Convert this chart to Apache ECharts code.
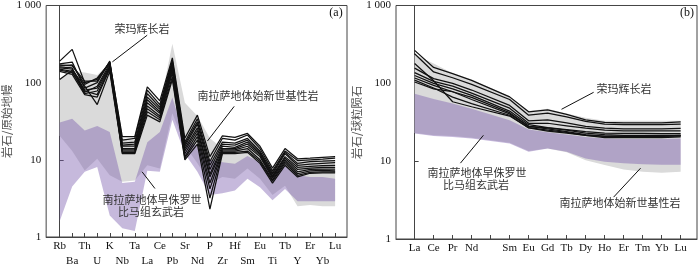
<!DOCTYPE html>
<html><head><meta charset="utf-8">
<script src="https://cdn.jsdelivr.net/npm/echarts@6/dist/echarts.min.js"></script>
<style>html,body{margin:0;padding:0;background:#fff}#c{width:700px;height:267px}</style>
</head><body><div id="c"></div>
<script>
// ---------- categories / tick labels ----------
const spiderElements = ['Rb','Ba','Th','U','K','Nb','Ta','La','Ce','Pb','Sr','Nd','P','Zr','Hf','Sm','Eu','Ti','Tb','Y','Er','Yb','Lu'];
const reeElements = ['La','Ce','Pr','Nd','','Sm','Eu','Gd','Tb','Dy','Ho','Er','Tm','Yb','Lu'];
const yTickLabels = {1:'1', 10:'10', 100:'100', 1000:'1 000'};

// ---------- (a) primitive-mantle normalised: Rongma gabbro ----------
const spiderL1 = [190,270,100,110,185,20,20,88,58,210,19,38,11,20.5,19.5,22,15,7.8,14,10.3,10.5,10.8,11];
const spiderL2 = [175,185,85,100,190,18,19,80,52,195,17,34,9.5,19,18,21,14,7.2,13,9.8,10,10.2,10.5];
const spiderL3 = [165,170,95,115,180,16.5,17,72,48,185,16,31,8.5,17,16.5,19,13,6.8,12.5,9,9.5,9.6,9.8];
const spiderL4 = [160,155,75,90,175,15.5,16,65,45,175,15,29,7.5,16,15.5,18,12.5,6.5,12,8.5,8.8,9,9.2];
const spiderL5 = [155,150,80,85,165,15,15,60,42,165,14,26,6.5,15,14.5,17,12,6.2,11,8,8.2,8.4,8.5];
const spiderL6 = [150,140,72,78,160,14,14,55,40,155,13,24,6,14,14,16,11.5,6,10.5,7.5,7.8,8,8];
const spiderL7 = [145,135,78,70,155,13.5,13.5,50,37,145,12,22,5,13.5,13.5,15,11,5.8,10,7,7.5,7.6,7.6];
const spiderL8 = [140,128,70,65,150,13,13,46,35,135,11,20,4.2,13,13,14,10,5.5,9.5,6.6,7.2,7.3,7.2];
const spiderL9 = [110,145,90,52,140,12.5,12.5,42,33,120,10.5,18,3.2,12.5,12.5,13,9.5,5.3,9,6.3,6.9,7,7];
const spiderL10 = [170,165,105,105,185,12,12,38,31,110,10,16,2.3,12,12,12.5,9,5,8.5,6,6.7,6.8,6.8];
const spiderLines = [spiderL1,spiderL2,spiderL3,spiderL4,spiderL5,spiderL6,spiderL7,spiderL8,spiderL9,spiderL10];

// (a) field: South Lhasa Eocene basic rocks (grey)
const eoceneTopA = [110,140,135,126,180,19,18,80,50,320,55,37,19,14,14,15,11.4,7.3,10.5,9.8,9.8,10,10];
const eoceneBotA = [20.5,13,7.3,10.3,6.3,5.2,5.4,8.5,7.7,40,15.3,9,5,6,5.7,7.7,5.7,3.5,4.6,2.5,2.6,2.5,2.5];
// (a) field: Early Jurassic Bima Fm basalts (purple)
const bimaTopA = [30.4,34,24,27.5,23,5.0,5.2,16.9,23,64,18.6,15,10,9.3,8.9,11.2,9.3,6.9,8.4,6.3,6.0,6.0,5.7];
const bimaBotA = [1.6,4.5,7.0,8.1,1.9,1.3,1.2,7.2,7.0,33,12,7,3.5,3.7,4.0,5.7,4.4,3.0,4.2,2.9,2.9,2.9,2.9];

// ---------- (b) chondrite normalised REE: Rongma gabbro (Pm = null) ----------
const reeB1 = [265,160,133,109,null,67,43,45.5,40,34,31.5,31,31,31,32];
const reeB2 = [240,140,118,97,null,62,39,41.5,37,32.5,30,29.5,29.5,29.5,30];
const reeB3 = [180,108,58,50,null,38,27,25,23.5,21.5,20,20,20,20,20.5];
const reeB4 = [157,115,100,82,null,52,33,34,31,28,26.5,26,26,26,26.3];
const reeB5 = [137,106,92,75,null,48,30.7,30.7,28.5,26.5,25,24.5,24.5,24.5,24.5];
const reeB6 = [126,100,85,70,null,44,29.4,27,25.5,24,23,22.8,22.8,22.6,22.6];
const reeB7 = [117,94,78,62,null,40.5,28,26.7,25,23,22,21.5,21.5,21.5,21.5];
const reeB8 = [110,87,66.5,55,null,38.9,26.7,24.4,23,21.5,20.8,20.8,20.8,20.8,21];
const reeB9 = [104,85,78,66,null,42,28,26,24,22,21,21,21,21,21.5];
const reeLines = [reeB1,reeB2,reeB3,reeB4,reeB5,reeB6,reeB7,reeB8,reeB9];

const eoceneTopB = [235,180,135,112,null,68,44,47,41,36,33,33,33,33,33];
const eoceneBotB = [23,21.5,21,20,null,17.2,13.5,14.5,13,10.3,8.9,7.8,7.3,7.1,7.3];
const bimaTopB = [73.7,63,55,47,null,33.5,25.5,23.5,22,20.5,19.5,19.3,19.3,19.3,19.6];
const bimaBotB = [22.6,21,20.5,19.5,null,16.9,13.2,14.5,13.2,10.8,9.8,9.4,9.1,9.0,9.0];

// ---------- helpers ----------
const serif = "'Liberation Serif','Noto Sans CJK SC',serif";
const cjk = "'Noto Sans CJK SC',sans-serif";
const GREY = '#dadada';
const PURPLE = 'rgba(120,88,172,0.42)';

function band(ax, upper, lower, color, z) {
  return {
    type: 'custom', xAxisIndex: ax, yAxisIndex: ax, silent: true, z: z,
    data: [[0, 1]],
    renderItem: function (params, api) {
      const pts = [];
      upper.forEach((v, i) => { if (v != null) pts.push(api.coord([i, v])); });
      for (let i = lower.length - 1; i >= 0; i--) { if (lower[i] != null) pts.push(api.coord([i, lower[i]])); }
      return { type: 'polygon', shape: { points: pts }, style: { fill: color } };
    }
  };
}
function line(ax, vals) {
  const d = [];
  vals.forEach((v, i) => { if (v != null) d.push([i, v]); });
  return { type: 'line', xAxisIndex: ax, yAxisIndex: ax, data: d, symbol: 'none', silent: true, z: 5,
    lineStyle: { color: '#111', width: 1.25 } };
}
function arrows(ax, list) {
  return { type: 'line', xAxisIndex: ax, yAxisIndex: ax, data: [], silent: true, z: 6,
    markLine: { silent: true, symbol: ['none', 'arrow'], symbolSize: [0, 10], animation: false,
      label: { show: false }, lineStyle: { color: '#111', width: 1, type: 'solid' },
      data: list.map(a => [{ coord: a[0] }, { coord: a[1] }]) } };
}
function range(n) { return Array.from({ length: n }, (_, i) => i); }
const evenIdx = range(spiderElements.length).filter(i => i % 2 === 0);
const oddIdx = range(spiderElements.length).filter(i => i % 2 === 1);

function yAxis(grid, name) {
  return { type: 'log', logBase: 10, min: 1, max: 1000, gridIndex: grid,
    axisLine: { show: true, lineStyle: { color: '#444' } },
    axisTick: { show: true, inside: true, length: 4, lineStyle: { color: '#444' } },
    minorTick: { show: false }, splitLine: { show: false },
    axisLabel: { formatter: v => yTickLabels[v] || '', fontFamily: serif, fontSize: 11, color: '#111', margin: 5,
      showMinLabel: true, showMaxLabel: true },
    name: name, nameLocation: 'middle', nameGap: 31,
    nameTextStyle: { color: '#555', fontSize: 11.5, fontFamily: cjk } };
}

const series = [];
series.push(band(0, eoceneTopA, eoceneBotA, GREY, 1));
series.push(band(0, bimaTopA, bimaBotA, PURPLE, 2));
spiderLines.forEach(l => series.push(line(0, l)));
series.push(arrows(0, [
  [[6.99, 412], [4.21, 186]],
  [[13.94, 49.3], [11.80, 17.5]],
  [[7.61, 4.25], [6.58, 7.0]]
]));
series.push(band(1, eoceneTopB, eoceneBotB, GREY, 1));
series.push(band(1, bimaTopB, bimaBotB, PURPLE, 2));
reeLines.forEach(l => series.push(line(1, l)));
series.push(arrows(1, [
  [[9.42, 76.7], [7.73, 46.4]],
  [[2.41, 9.43], [3.62, 21.5]],
  [[10.47, 3.45], [11.89, 8.13]]
]));

function txt(x, y, s, font, fill) {
  return { type: 'text', x: x, y: y, silent: true, z: 10,
    style: { text: s, font: font, fill: fill, textAlign: 'center', textVerticalAlign: 'middle' } };
}
const cjkFont = "11px 'Noto Sans CJK SC'";
const graphics = [
  txt(142, 29, '荣玛辉长岩', cjkFont, '#333'),
  txt(258, 96, '南拉萨地体始新世基性岩', cjkFont, '#333'),
  txt(152, 200, '南拉萨地体早侏罗世', cjkFont, '#333'),
  txt(151, 212, '比马组玄武岩', cjkFont, '#333'),
  txt(624, 89, '荣玛辉长岩', cjkFont, '#333'),
  txt(477, 173, '南拉萨地体早侏罗世', cjkFont, '#333'),
  txt(476, 185, '比马组玄武岩', cjkFont, '#333'),
  txt(620, 203, '南拉萨地体始新世基性岩', cjkFont, '#333'),
  txt(336, 13, '(a)', "12px 'Liberation Serif'", '#111'),
  txt(687, 13, '(b)', "12px 'Liberation Serif'", '#111')
];

const option = {
  backgroundColor: '#fff',
  animation: false,
  grid: [
    { left: 43, top: 5, width: 304, height: 234, show: true, borderColor: '#444', borderWidth: 1, backgroundColor: 'transparent' },
    { left: 396, top: 5, width: 301, height: 234, show: true, borderColor: '#444', borderWidth: 1, backgroundColor: 'transparent' }
  ],
  xAxis: [
    { type: 'value', gridIndex: 0, position: 'bottom', min: -1.08, max: 22.95, splitLine: { show: false },
      axisLine: { show: true, lineStyle: { color: '#444' } },
      axisTick: { show: true, inside: true, length: 4, customValues: range(spiderElements.length), lineStyle: { color: '#444' } },
      axisLabel: { customValues: evenIdx, showMinLabel: true, showMaxLabel: true, hideOverlap: false,
        formatter: v => spiderElements[Math.round(v)],
        fontFamily: serif, fontSize: 11, color: '#111', margin: 4 } },
    { type: 'value', gridIndex: 1, position: 'bottom', min: -0.98, max: 14.86, splitLine: { show: false },
      axisLine: { show: true, lineStyle: { color: '#444' } },
      axisTick: { show: true, inside: true, length: 4, customValues: range(reeElements.length), lineStyle: { color: '#444' } },
      axisLabel: { customValues: range(reeElements.length), showMinLabel: true, showMaxLabel: true, hideOverlap: false,
        formatter: v => reeElements[Math.round(v)] || '',
        fontFamily: serif, fontSize: 11, color: '#111', margin: 4 } },
    { type: 'value', gridIndex: 0, position: 'bottom', offset: 0, min: -1.08, max: 22.95, splitLine: { show: false },
      axisLine: { show: false }, axisTick: { show: false },
      axisLabel: { customValues: oddIdx, showMinLabel: true, showMaxLabel: true, hideOverlap: false,
        formatter: v => spiderElements[Math.round(v)],
        fontFamily: serif, fontSize: 11, color: '#111', margin: 19 } }
  ],
  yAxis: [ yAxis(0, '岩石/原始地幔'), yAxis(1, '岩石/球粒陨石') ],
  graphic: graphics,
  series: series
};
const chart = echarts.init(document.getElementById('c'), null, { renderer: 'canvas' });
chart.setOption(option);
</script></body></html>
